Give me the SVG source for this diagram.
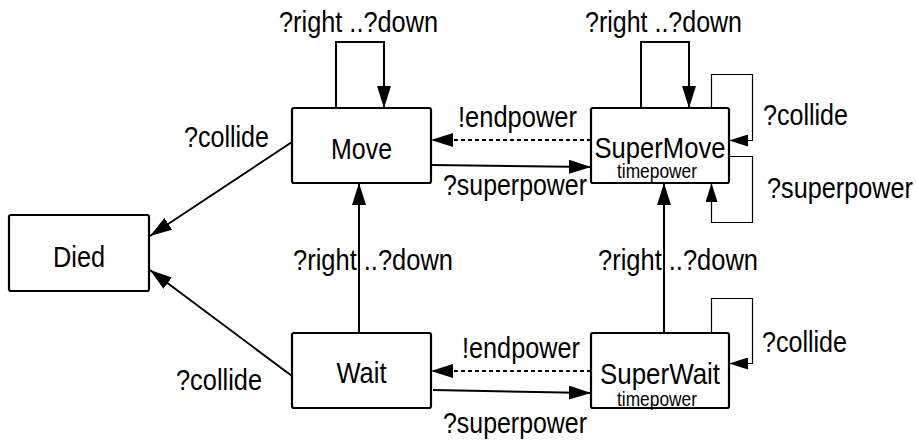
<svg xmlns="http://www.w3.org/2000/svg" width="917" height="442" viewBox="0 0 917 442">
<style>
.box{fill:#fff;stroke:#000;stroke-width:2.2}
.t{font-family:"Liberation Sans",Arial,sans-serif;font-size:30px;fill:#000}
.c{text-anchor:middle}
.s{font-family:"Liberation Sans",Arial,sans-serif;font-size:20px;fill:#000;text-anchor:middle}
.e{fill:none;stroke:#000;stroke-width:2}
.d{stroke-dasharray:4 3}
.th{fill:none;stroke:#000;stroke-width:1.2}
</style>
<defs>
<marker id="a" markerUnits="userSpaceOnUse" markerWidth="22" markerHeight="14" refX="22" refY="7" orient="auto"><path d="M0,0 L22,7 L0,14 z" fill="#000"/></marker>
<marker id="b" markerUnits="userSpaceOnUse" markerWidth="19" markerHeight="12" refX="19" refY="6" orient="auto"><path d="M0,0 L19,6 L0,12 z" fill="#000"/></marker>
</defs>
<g id="connectors">
<path class="e" d="M336,108 V42 H384 V108" marker-end="url(#a)"/>
<path class="e" d="M641,108 V42 H689 V108" marker-end="url(#a)"/>
<path class="e" d="M359,333 V183" marker-end="url(#a)"/>
<path class="e" d="M664,333 V183" marker-end="url(#a)"/>
<path class="e" d="M292,142 L150,236" marker-end="url(#a)"/>
<path class="e" d="M292,376 L150,270" marker-end="url(#a)"/>
<path class="e d" d="M591,140 H431" marker-end="url(#a)"/>
<path class="e" d="M431,165 L591,167" marker-end="url(#a)"/>
<path class="e d" d="M591,371 H431" marker-end="url(#a)"/>
<path class="e" d="M433,390 L591,393" marker-end="url(#a)"/>
<path class="th" d="M711.5,108 V74.5 H752.5 V140.5 H729" marker-end="url(#b)"/>
<path class="th" d="M729,156.5 H752.5 V222.5 H711.5 V183" marker-end="url(#b)"/>
<path class="th" d="M711.5,333 V298.5 H752.5 V363.5 H729" marker-end="url(#b)"/>
</g>
<g id="labels">
<text class="t" x="279" y="32" textLength="159" lengthAdjust="spacingAndGlyphs">?right ..?down</text>
<text class="t" x="585" y="32" textLength="157" lengthAdjust="spacingAndGlyphs">?right ..?down</text>
<text class="t" x="293" y="270" textLength="160" lengthAdjust="spacingAndGlyphs">?right ..?down</text>
<text class="t" x="598" y="270" textLength="160" lengthAdjust="spacingAndGlyphs">?right ..?down</text>
<text class="t" x="184" y="147" textLength="85" lengthAdjust="spacingAndGlyphs">?collide</text>
<text class="t" x="176" y="390" textLength="86" lengthAdjust="spacingAndGlyphs">?collide</text>
<text class="t" x="763" y="125" textLength="85" lengthAdjust="spacingAndGlyphs">?collide</text>
<text class="t" x="762" y="352" textLength="85" lengthAdjust="spacingAndGlyphs">?collide</text>
<text class="t" x="767" y="198" textLength="146" lengthAdjust="spacingAndGlyphs">?superpower</text>
<text class="t" x="443" y="195" textLength="144" lengthAdjust="spacingAndGlyphs">?superpower</text>
<text class="t" x="443" y="433" textLength="144" lengthAdjust="spacingAndGlyphs">?superpower</text>
<text class="t" x="458" y="127" textLength="119" lengthAdjust="spacingAndGlyphs">!endpower</text>
<text class="t" x="462" y="358" textLength="118" lengthAdjust="spacingAndGlyphs">!endpower</text>
</g>
<g id="move"><rect class="box" x="292" y="108" width="139" height="75" rx="2"/><text class="t c" x="361.5" y="159" textLength="61" lengthAdjust="spacingAndGlyphs">Move</text></g>
<g id="supermove"><rect class="box" x="591" y="108" width="138" height="75" rx="2"/><text class="t c" x="660" y="158" textLength="131" lengthAdjust="spacingAndGlyphs">SuperMove</text><text class="s" x="657" y="178" textLength="80" lengthAdjust="spacingAndGlyphs">timepower</text></g>
<g id="died"><rect class="box" x="9" y="215" width="140" height="76" rx="2"/><text class="t c" x="79" y="267" textLength="52" lengthAdjust="spacingAndGlyphs">Died</text></g>
<g id="wait"><rect class="box" x="292" y="333" width="139" height="75" rx="2"/><text class="t c" x="361.5" y="383" textLength="50" lengthAdjust="spacingAndGlyphs">Wait</text></g>
<g id="superwait"><rect class="box" x="591" y="333" width="138" height="75" rx="2"/><text class="t c" x="660" y="384" textLength="120" lengthAdjust="spacingAndGlyphs">SuperWait</text><text class="s" x="657" y="406" textLength="80" lengthAdjust="spacingAndGlyphs">timepower</text></g>
</svg>
